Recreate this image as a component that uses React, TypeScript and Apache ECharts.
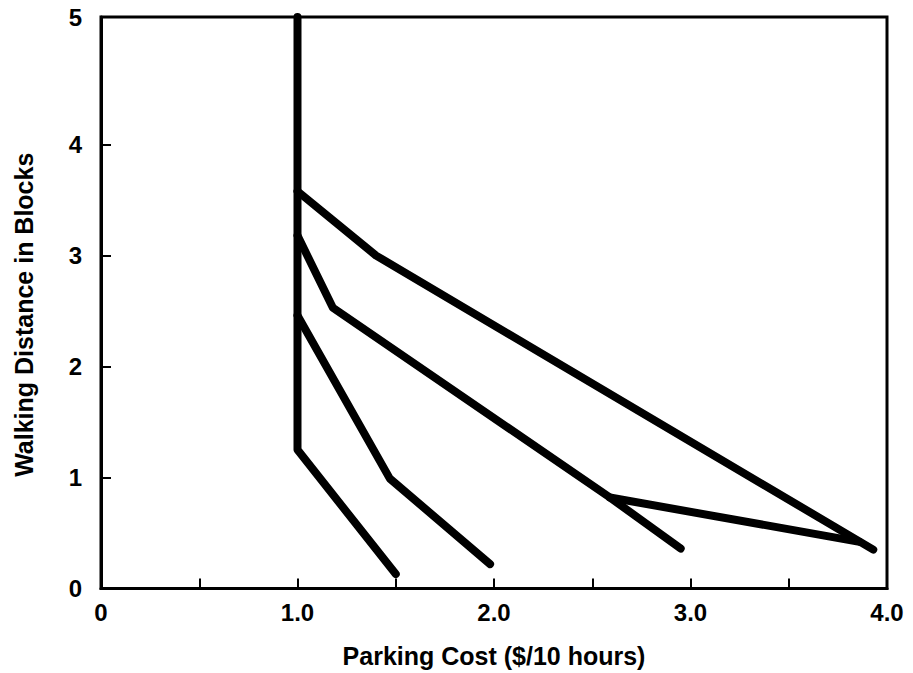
import React, { useEffect, useRef } from "react";
import * as echarts from "echarts";

// Data (x = parking cost $/10 h, y = walking distance in blocks)
const seriesAX = [1.0, 1.0, 1.5];
const seriesAY = [5.15, 1.25, 0.13];
const seriesBX = [1.0, 1.47, 1.98];
const seriesBY = [2.46, 0.99, 0.22];
const seriesCX = [1.0, 1.18, 2.59, 2.95];
const seriesCY = [3.18, 2.53, 0.82, 0.36];
const branchCX = [2.59, 3.86];
const branchCY = [0.82, 0.42];
const seriesDX = [1.0, 1.4, 3.93];
const seriesDY = [3.58, 3.0, 0.35];

const yTickValues = [1, 2, 3, 4];
const yLabelValues = [0, 1, 2, 3, 4, 5.15];
const xTitle = "Parking Cost ($/10 hours)";
const yTitle = "Walking Distance in Blocks";

const FONT = "'Liberation Sans', Arial, sans-serif";

function pairs(xs: number[], ys: number[]) {
  return xs.map((x, i) => [x, ys[i]]);
}

export default function App() {
  const ref = useRef<HTMLDivElement>(null);
  useEffect(() => {
    if (!ref.current) return;
    const chart = echarts.init(ref.current, null, { renderer: "svg" });
    const lineStyle = { color: "#000", width: 8, cap: "round", join: "round" };
    const mk = (name: string, xs: number[], ys: number[]) => ({
      name,
      type: "line",
      data: pairs(xs, ys),
      showSymbol: false,
      symbol: "none",
      lineStyle,
      z: 3,
    });
    chart.setOption({
      animation: false,
      backgroundColor: "#fff",
      grid: {
        left: 101,
        right: 26,
        top: 17,
        bottom: 81,
        show: true,
        borderColor: "#000",
        borderWidth: 3,
      },
      xAxis: {
        type: "value",
        min: 0,
        max: 4,
        interval: 0.5,
        name: xTitle,
        nameLocation: "middle",
        nameGap: 67,
        nameTextStyle: {
          color: "#000",
          fontFamily: FONT,
          fontWeight: "bold",
          fontSize: 25,
          verticalAlign: "middle",
        },
        axisLine: { show: true, onZero: false, lineStyle: { color: "#000", width: 3 } },
        axisTick: { show: true, inside: true, length: 10, lineStyle: { color: "#000", width: 2 } },
        splitLine: { show: false },
        axisLabel: {
          color: "#000",
          fontFamily: FONT,
          fontWeight: "bold",
          fontSize: 24,
          margin: 12,
          formatter: (v: number) =>
            v === 0 ? "0" : Number.isInteger(v) ? v.toFixed(1) : "",
        },
      },
      yAxis: {
        type: "value",
        min: 0,
        max: 5.15,
        name: yTitle,
        nameLocation: "middle",
        nameGap: 77,
        nameRotate: 90,
        nameTextStyle: {
          color: "#000",
          fontFamily: FONT,
          fontWeight: "bold",
          fontSize: 25,
          verticalAlign: "middle",
          padding: [0, 24, 0, 0],
        },
        axisLine: { show: true, onZero: false, lineStyle: { color: "#000", width: 3 } },
        axisTick: {
          show: true,
          inside: true,
          length: 10,
          customValues: yTickValues,
          lineStyle: { color: "#000", width: 2 },
        },
        splitLine: { show: false },
        axisLabel: {
          color: "#000",
          fontFamily: FONT,
          fontWeight: "bold",
          fontSize: 24,
          margin: 19,
          customValues: yLabelValues,
          formatter: (v: number) => (v > 5 ? "5" : String(Math.round(v))),
        },
      },
      series: [
        mk("A", seriesAX, seriesAY),
        mk("B", seriesBX, seriesBY),
        mk("C", seriesCX, seriesCY),
        mk("C branch", branchCX, branchCY),
        mk("D", seriesDX, seriesDY),
      ],
    });
    return () => chart.dispose();
  }, []);
  return (
    <div
      ref={ref}
      style={{ position: "absolute", left: 0, top: 0, width: 913, height: 673, background: "#fff" }}
    />
  );
}
